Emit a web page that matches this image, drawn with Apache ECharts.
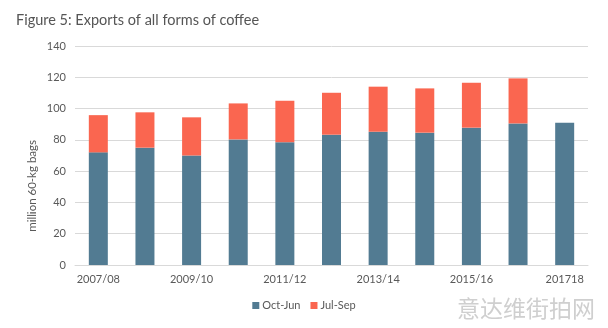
<!DOCTYPE html>
<html><head><meta charset="utf-8">
<script src="https://cdn.jsdelivr.net/npm/echarts@6/dist/echarts.min.js"></script>
<style>html,body{margin:0;padding:0;background:#fff}#c{width:608px;height:328px}</style>
</head><body><div id="c"></div>
<script>
const categories = ['2007/08','2008/09','2009/10','2010/11','2011/12','2012/13','2013/14','2014/15','2015/16','2016/17','201718'];
const octJun = [72, 75, 70, 80.3, 78.5, 83.3, 85.2, 84.6, 87.8, 90.5, 91];
const julSep = [23.8, 22.6, 24.4, 23, 26.5, 26.8, 28.8, 28.3, 28.7, 28.8, null];
const yTicks = [0, 20, 40, 60, 80, 100, 120, 140];

const chart = echarts.init(document.getElementById('c'), null, {renderer: 'canvas'});
chart.setOption({
  animation: false,
  title: {
    text: 'Figure 5: Exports of all forms of coffee',
    left: 11, top: 8,
    textStyle: {fontFamily: 'Lato', fontSize: 14.5, fontWeight: 'normal', color: '#555555'}
  },
  grid: {left: 75, right: 20, top: 46, bottom: 63},
  legend: {
    bottom: 12, left: 'center',
    itemWidth: 7, itemHeight: 7, itemGap: 10,
    icon: 'rect',
    textStyle: {fontFamily: 'Lato', fontSize: 11, color: '#595959', padding: [0, 0, 0, -2]},
    data: ['Oct-Jun', 'Jul-Sep']
  },
  xAxis: {
    type: 'category', data: categories,
    axisLine: {lineStyle: {color: '#d9d9d9'}},
    axisTick: {show: false},
    axisLabel: {interval: 1, fontFamily: 'Lato', fontSize: 11, color: '#595959', margin: 9}
  },
  yAxis: {
    type: 'value', min: yTicks[0], max: yTicks[yTicks.length - 1], interval: 20,
    axisLine: {show: false}, axisTick: {show: false},
    splitLine: {lineStyle: {color: '#d9d9d9'}},
    axisLabel: {fontFamily: 'Lato', fontSize: 11, color: '#595959', margin: 9}
  },
  graphic: [
    {type: 'text', left: 26, top: 140, rotation: Math.PI / 2,
     style: {text: 'million 60-kg bags', fontFamily: 'Lato', fontSize: 11.5, fill: '#595959'}},
    {type: 'text', right: 13, top: 297,
     style: {text: '意达维街拍网', fontFamily: 'Noto Sans CJK SC', fontSize: 23, fill: '#cfcfcf'}}
  ],
  series: [
    {name: 'Oct-Jun', type: 'bar', stack: 't', data: octJun, barWidth: 19,
     itemStyle: {color: '#527b92'}},
    {name: 'Jul-Sep', type: 'bar', stack: 't', data: julSep, barWidth: 19,
     itemStyle: {color: '#fa6650'}}
  ]
});
</script></body></html>
